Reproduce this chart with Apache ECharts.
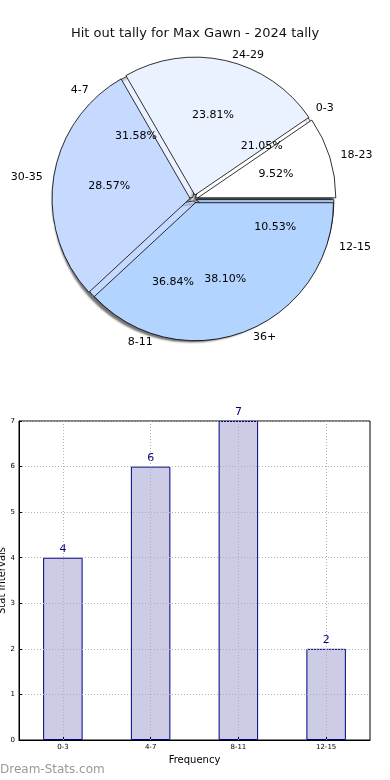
<!DOCTYPE html>
<html>
<head>
<meta charset="utf-8">
<script src="https://cdn.jsdelivr.net/npm/echarts@6/dist/echarts.min.js"></script>
<style>
html,body{margin:0;padding:0;background:#fff;}
#c{width:390px;height:780px;}
</style>
</head>
<body>
<div id="c"></div>
<script>
// Data
const titleText = 'Hit out tally for Max Gawn - 2024 tally';
const pieACategories = ['0-3', '4-7', '8-11', '12-15'];
const pieAValues = [4, 6, 7, 2];
const pieBCategories = ['18-23', '24-29', '30-35', '36+'];
const pieBValues = [2, 5, 6, 8];
const barCategories = ['0-3', '4-7', '8-11', '12-15'];
const barValues = [4, 6, 7, 2];
const yTicks = [0, 1, 2, 3, 4, 5, 6, 7];

const sliceColors = ['#ffffff', '#eaf1ff', '#c6d9ff', '#b3d4ff'];
const PIE_CENTER = [194, 199];
const R = 138;

function mkData(names, vals, extra) {
  return names.map((n, i) => Object.assign({
    name: n, value: vals[i],
    itemStyle: { color: sliceColors[i % sliceColors.length] }
  }, extra || {}));
}

const basePie = {
  type: 'pie',
  center: PIE_CENTER,
  radius: [0, R],
  startAngle: 0,
  clockwise: false,
  avoidLabelOverlap: false,
  animation: false,
  emphasis: { disabled: true },
  label: { show: false },
  labelLine: { show: false }
};

const pieA = Object.assign({}, basePie, {
  z: 2,
  selectedMode: 'multiple',
  selectedOffset: 2,
  itemStyle: {
    borderColor: '#000', borderWidth: 0.8,
    shadowColor: 'rgba(0,0,0,0.55)', shadowBlur: 2, shadowOffsetX: -2, shadowOffsetY: 3
  },
  data: mkData(pieACategories, pieAValues, { selected: true })
});

const pieB = Object.assign({}, basePie, {
  z: 3,
  selectedMode: 'multiple',
  selectedOffset: 4,
  itemStyle: { borderColor: '#000', borderWidth: 0.8 },
  data: mkData(pieBCategories, pieBValues, { selected: true })
});

function labelPie(names, vals, inside) {
  const total = vals.reduce((a, b) => a + b, 0);
  return Object.assign({}, basePie, {
    z: 5,
    silent: true,
    radius: inside ? [R * 0.2, R] : [0, R],
    itemStyle: { color: 'rgba(0,0,0,0)', borderWidth: 0 },
    label: inside ? {
      show: true, position: 'inside',
      formatter: p => (p.value / total * 100).toFixed(2) + '%',
      color: '#000', fontSize: 11, fontFamily: 'DejaVu Sans'
    } : {
      show: true, position: 'outside', formatter: '{b}',
      color: '#000', fontSize: 11, fontFamily: 'DejaVu Sans', distanceToLabelLine: 5
    },
    labelLine: { show: false, length: 10, length2: 0 },
    data: names.map((n, i) => ({ name: n, value: vals[i] }))
  });
}

const chart = echarts.init(document.getElementById('c'), null, { renderer: 'canvas' });
chart.setOption({
  animation: false,
  backgroundColor: '#fff',
  title: {
    text: titleText, left: 'center', top: 22,
    textStyle: { fontSize: 13, fontWeight: 'normal', color: '#111', fontFamily: 'DejaVu Sans' }
  },
  graphic: [{
    type: 'text', left: 0, top: 764,
    style: { text: 'Dream-Stats.com', fill: '#999', font: '12px "DejaVu Sans"' }
  }],
  grid: {
    left: 19, right: 20, top: 421, bottom: 40,
    show: true, borderColor: '#000', borderWidth: 1,
    containLabel: false, outerBoundsMode: 'none'
  },
  xAxis: {
    type: 'category',
    data: barCategories,
    z: 4,
    name: 'Frequency', nameLocation: 'middle', nameGap: 15, nameMoveOverlap: false,
    nameTextStyle: { fontSize: 10, color: '#000', fontFamily: 'DejaVu Sans' },
    axisLine: { lineStyle: { color: '#000' } },
    axisTick: { show: true, inside: true, alignWithLabel: true, length: 3, lineStyle: { color: '#000' } },
    axisLabel: { fontSize: 7, color: '#000', margin: 4, fontFamily: 'DejaVu Sans' },
    splitLine: { show: false }
  },
  yAxis: {
    type: 'value',
    min: 0, max: 7, interval: 1,
    z: 4,
    name: 'Stat Intervals', nameLocation: 'middle', nameGap: 12, nameMoveOverlap: false,
    nameTextStyle: { fontSize: 10, color: '#000', fontFamily: 'DejaVu Sans' },
    axisLine: { show: true, lineStyle: { color: '#000' } },
    axisTick: { show: true, inside: true, length: 3, lineStyle: { color: '#000' } },
    axisLabel: {
      fontSize: 7, color: '#000', margin: 4, fontFamily: 'DejaVu Sans',
      customValues: yTicks
    },
    splitLine: { show: true, lineStyle: { color: '#b0b0b0', type: [1, 2], width: 1 } }
  },
  series: [
    pieA, pieB,
    labelPie(pieACategories, pieAValues, false),
    labelPie(pieACategories, pieAValues, true),
    labelPie(pieBCategories, pieBValues, false),
    labelPie(pieBCategories, pieBValues, true),
    {
      type: 'bar',
      data: barValues,
      barWidth: '45%',
      z: 2,
      itemStyle: { color: '#ccccE6', borderColor: '#000080', borderWidth: 1 },
      label: { show: true, position: 'top', distance: 3, color: '#000080', fontSize: 11, fontFamily: 'DejaVu Sans' },
      emphasis: { disabled: true },
      markLine: {
        silent: true, symbol: 'none', z: 5,
        label: { show: false },
        lineStyle: { color: '#b0b0b0', type: [1, 2], width: 1 },
        data: barCategories.map(c => ({ xAxis: c }))
      }
    }
  ]
});
</script>
</body>
</html>
